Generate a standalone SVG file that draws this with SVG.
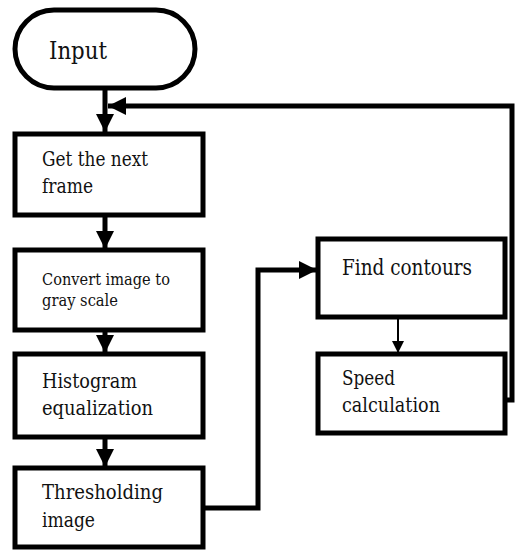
<svg xmlns="http://www.w3.org/2000/svg" width="515" height="550" viewBox="0 0 515 550">
<defs>
<style>
.box{fill:#fff;stroke:#000;stroke-width:5}
.c{fill:none;stroke:#000;stroke-width:5}
.thin{fill:none;stroke:#000;stroke-width:2}
text{font-family:"DejaVu Serif","Liberation Serif",serif;fill:#111}
</style>
<marker id="ah" markerUnits="userSpaceOnUse" markerWidth="20" markerHeight="20" refX="18" refY="9" orient="auto">
<path d="M0,0 L18,9 L0,18 Z" fill="#000"/>
</marker>
<marker id="ahs" markerUnits="userSpaceOnUse" markerWidth="14" markerHeight="14" refX="12" refY="6" orient="auto">
<path d="M0,0 L12,6 L0,12 Z" fill="#000"/>
</marker>
</defs>
<rect width="515" height="550" fill="#fff"/>
<g id="connectors">
<line class="c" x1="105" y1="88" x2="105" y2="132" marker-end="url(#ah)"/>
<polyline class="c" points="505,400 512,400 512,106 108,106" marker-end="url(#ah)"/>
<line class="c" x1="105" y1="215" x2="105" y2="249" marker-end="url(#ah)"/>
<line class="c" x1="105" y1="330" x2="105" y2="353" marker-end="url(#ah)"/>
<line class="c" x1="105" y1="437" x2="105" y2="467" marker-end="url(#ah)"/>
<polyline class="c" points="203,508 258,508 258,270 317,270" marker-end="url(#ah)"/>
<line class="thin" x1="398" y1="317" x2="398" y2="353" marker-end="url(#ahs)"/>
</g>
<g id="input">
<rect class="box" x="15" y="10" width="180" height="78" rx="39" ry="39"/>
<text x="49" y="59" font-size="25" textLength="58" lengthAdjust="spacingAndGlyphs">Input</text>
</g>
<g id="next-frame">
<rect class="box" x="15" y="134" width="188" height="81"/>
<text x="42" y="166" font-size="20" textLength="106" lengthAdjust="spacingAndGlyphs">Get the next</text>
<text x="42" y="193" font-size="20" textLength="51" lengthAdjust="spacingAndGlyphs">frame</text>
</g>
<g id="gray">
<rect class="box" x="15" y="250" width="188" height="80"/>
<text x="42" y="285" font-size="17" textLength="128" lengthAdjust="spacingAndGlyphs">Convert image to</text>
<text x="42" y="306" font-size="17" textLength="76" lengthAdjust="spacingAndGlyphs">gray scale</text>
</g>
<g id="histogram">
<rect class="box" x="15" y="354" width="188" height="83"/>
<text x="42" y="388" font-size="20" textLength="95" lengthAdjust="spacingAndGlyphs">Histogram</text>
<text x="42" y="415" font-size="20" textLength="111" lengthAdjust="spacingAndGlyphs">equalization</text>
</g>
<g id="threshold">
<rect class="box" x="15" y="468" width="188" height="79"/>
<text x="42" y="499" font-size="20" textLength="121" lengthAdjust="spacingAndGlyphs">Thresholding</text>
<text x="42" y="527" font-size="20" textLength="53" lengthAdjust="spacingAndGlyphs">image</text>
</g>
<g id="contours">
<rect class="box" x="318" y="239" width="187" height="78"/>
<text x="342" y="275" font-size="23" textLength="130" lengthAdjust="spacingAndGlyphs">Find contours</text>
</g>
<g id="speed">
<rect class="box" x="318" y="354" width="187" height="79"/>
<text x="342" y="385" font-size="20" textLength="53" lengthAdjust="spacingAndGlyphs">Speed</text>
<text x="342" y="412" font-size="20" textLength="98" lengthAdjust="spacingAndGlyphs">calculation</text>
</g>
</svg>
